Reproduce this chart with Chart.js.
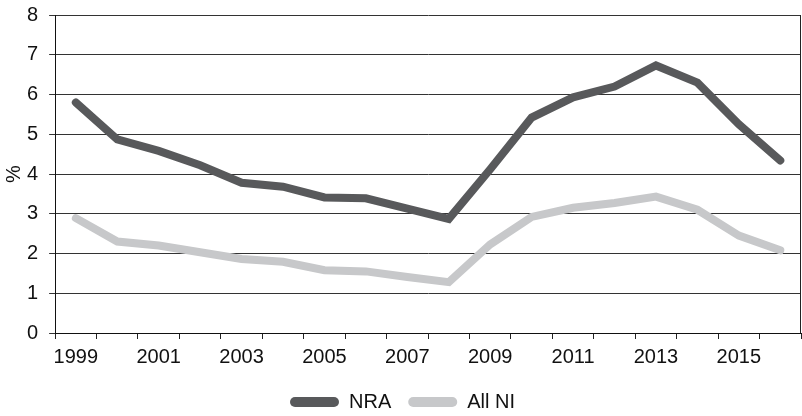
<!DOCTYPE html>
<html>
<head>
<meta charset="utf-8">
<script src="https://cdn.jsdelivr.net/npm/chart.js@4/dist/chart.umd.min.js"></script>
<style>
  html, body { margin: 0; padding: 0; background: #ffffff; }
  #wrap { width: 802px; height: 416px; position: relative; }
</style>
</head>
<body>
<div id="wrap"><canvas id="chart"></canvas></div>
<script>
// Years on the category axis
const years = ['1999','2000','2001','2002','2003','2004','2005','2006','2007','2008',
               '2009','2010','2011','2012','2013','2014','2015','2016'];
// Rates, in per cent
const nraValues = [5.8, 4.87, 4.58, 4.22, 3.78, 3.68, 3.41, 3.39, 3.13, 2.87,
                   4.12, 5.42, 5.93, 6.2, 6.73, 6.3, 5.25, 4.34];
const allNiValues = [2.89, 2.3, 2.2, 2.03, 1.86, 1.79, 1.58, 1.55, 1.41, 1.28,
                     2.23, 2.92, 3.15, 3.27, 3.43, 3.1, 2.45, 2.08];
const yTicks = [0, 1, 2, 3, 4, 5, 6, 7, 8];

const FONT = "'Liberation Sans', Arial, Helvetica, sans-serif";
const DARK = '#58595b';
const LIGHT = '#c7c8ca';

// Closes the plot frame on the right-hand side
const rightFrame = {
  id: 'rightFrame',
  afterDraw(chart) {
    const { ctx, chartArea } = chart;
    ctx.save();
    ctx.strokeStyle = '#222';
    ctx.lineWidth = 1;
    const x = Math.round(chartArea.right) - 0.5;
    ctx.beginPath();
    ctx.moveTo(x, chartArea.top);
    ctx.lineTo(x, chartArea.bottom);
    ctx.stroke();
    ctx.restore();
  }
};

// Keep the plot edges where the layout padding puts them
const noEdgePadding = (scale) => {
  scale.paddingTop = 0;
  scale.paddingBottom = 0;
  scale.paddingLeft = 0;
  scale.paddingRight = 0;
};

new Chart(document.getElementById('chart'), {
  type: 'line',
  data: {
    labels: years,
    datasets: [
      {
        label: 'NRA',
        data: nraValues,
        borderColor: DARK,
        backgroundColor: DARK,
        borderWidth: 8,
        borderCapStyle: 'round',
        borderJoinStyle: 'miter',
        pointRadius: 0,
        tension: 0
      },
      {
        label: 'All NI',
        data: allNiValues,
        borderColor: LIGHT,
        backgroundColor: LIGHT,
        borderWidth: 8,
        borderCapStyle: 'round',
        borderJoinStyle: 'miter',
        pointRadius: 0,
        tension: 0
      }
    ]
  },
  options: {
    responsive: true,
    maintainAspectRatio: false,
    animation: false,
    devicePixelRatio: 1,
    layout: { autoPadding: false, padding: { top: 15, right: 1, left: 4, bottom: -6 } },
    plugins: {
      tooltip: { enabled: false },
      legend: {
        position: 'bottom',
        align: 'center',
        labels: {
          color: '#111',
          font: { family: FONT, size: 20, lineHeight: 1 },
          boxWidth: 49,
          boxHeight: 10,
          useBorderRadius: true,
          borderRadius: 5,
          padding: 17,
          generateLabels(chart) {
            return Chart.defaults.plugins.legend.labels.generateLabels(chart).map(l => {
              l.lineWidth = 0;
              l.fillStyle = l.strokeStyle;
              return l;
            });
          }
        }
      }
    },
    scales: {
      x: {
        type: 'category',
        offset: true,
        afterFit: noEdgePadding,
        grid: {
          offset: true,
          drawOnChartArea: false,
          drawTicks: true,
          tickLength: 6,
          color: '#222',
          lineWidth: 1
        },
        border: { display: true, color: '#111', width: 1 },
        ticks: {
          autoSkip: false,
          maxRotation: 0,
          minRotation: 0,
          padding: 8,
          color: '#111',
          font: { family: FONT, size: 20, lineHeight: 1 },
          callback: (v, i) => (i % 2 === 0 ? years[i] : '')
        }
      },
      y: {
        min: yTicks[0],
        max: yTicks[yTicks.length - 1],
        afterBuildTicks: (scale) => { scale.ticks = yTicks.map(v => ({ value: v })); },
        afterFit: noEdgePadding,
        grid: {
          color: '#333',
          lineWidth: 1,
          drawTicks: true,
          tickLength: 6
        },
        border: { display: true, color: '#111', width: 1 },
        ticks: {
          padding: 11,
          color: '#111',
          font: { family: FONT, size: 20, lineHeight: 1 }
        },
        title: {
          display: true,
          text: '%',
          color: '#111',
          font: { family: FONT, size: 20, lineHeight: 1 },
          padding: { top: 0, bottom: -8 }
        }
      }
    }
  },
  plugins: [rightFrame]
});
</script>
</body>
</html>
